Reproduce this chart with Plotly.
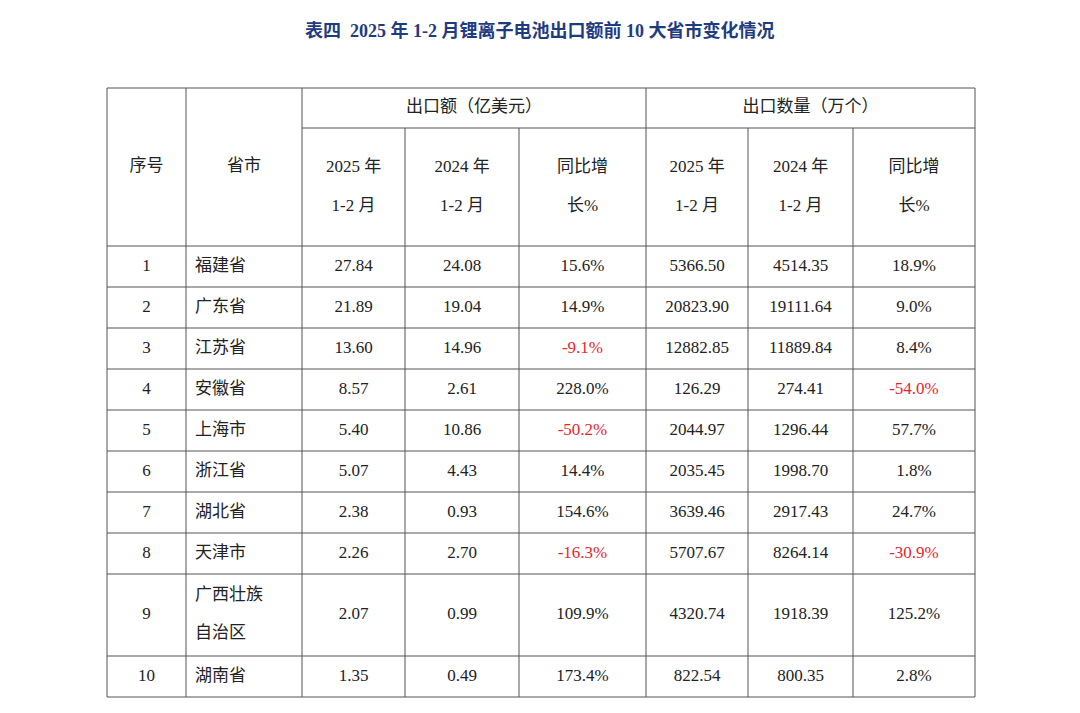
import plotly.graph_objects as go

title = "表四  2025 年 1-2 月锂离子电池出口额前 10 大省市变化情况"
ranks = [str(i) for i in range(1, 11)]
provinces = ["福建省", "广东省", "江苏省", "安徽省", "上海市", "浙江省", "湖北省", "天津市", "广西壮族", "湖南省"]
province_extra = "自治区"  # second line of row 9
value_2025 = ["27.84", "21.89", "13.60", "8.57", "5.40", "5.07", "2.38", "2.26", "2.07", "1.35"]
value_2024 = ["24.08", "19.04", "14.96", "2.61", "10.86", "4.43", "0.93", "2.70", "0.99", "0.49"]
value_yoy = ["15.6%", "14.9%", "-9.1%", "228.0%", "-50.2%", "14.4%", "154.6%", "-16.3%", "109.9%", "173.4%"]
qty_2025 = ["5366.50", "20823.90", "12882.85", "126.29", "2044.97", "2035.45", "3639.46", "5707.67", "4320.74", "822.54"]
qty_2024 = ["4514.35", "19111.64", "11889.84", "274.41", "1296.44", "1998.70", "2917.43", "8264.14", "1918.39", "800.35"]
qty_yoy = ["18.9%", "9.0%", "8.4%", "-54.0%", "57.7%", "1.8%", "24.7%", "-30.9%", "125.2%", "2.8%"]

col_x = [107, 186, 302, 405, 519, 646, 748, 853, 975]
row_y = [246, 287, 328, 369, 410, 451, 492, 533, 574, 656, 697]
top, mid = 88, 128

FONT = "Liberation Serif, Noto Sans CJK SC"
BLACK = "#222222"
RED = "#e8262a"
LINE = "#555555"
OFF = 8  # page body margin

fig = go.Figure()

def add_text(xs, ys, texts, colors=None, pos="middle center", size=17, family=FONT):
    fig.add_trace(go.Scatter(
        x=xs, y=ys, text=texts, mode="text", textposition=pos,
        textfont=dict(family=family, size=size, color=colors or BLACK),
        hoverinfo="skip", showlegend=False))

shapes = []
def hline(y, x0, x1):
    shapes.append(dict(type="line", x0=x0, x1=x1, y0=y, y1=y, xref="x", yref="y", line=dict(color=LINE, width=1)))
def vline(x, y0, y1):
    shapes.append(dict(type="line", x0=x, x1=x, y0=y0, y1=y1, xref="x", yref="y", line=dict(color=LINE, width=1)))

hline(top, col_x[0], col_x[-1])
hline(mid, col_x[2], col_x[-1])
for y in row_y:
    hline(y, col_x[0], col_x[-1])
for i, x in enumerate(col_x):
    if i in (3, 4, 6, 7):
        vline(x, mid, row_y[-1])
    else:
        vline(x, top, row_y[-1])

# header
add_text([(col_x[0] + col_x[1]) / 2, (col_x[1] + col_x[2]) / 2], [167, 167], ["序号", "省市"])
add_text([(col_x[2] + col_x[5]) / 2, (col_x[5] + col_x[8]) / 2], [108, 108], ["出口额（亿美元）", "出口数量（万个）"])
sub1 = ["2025 年", "2024 年", "同比增", "2025 年", "2024 年", "同比增"]
sub2 = ["1-2 月", "1-2 月", "长%", "1-2 月", "1-2 月", "长%"]
centers = [(col_x[i] + col_x[i + 1]) / 2 for i in range(2, 8)]
add_text(centers, [168] * 6, sub1)
add_text(centers, [207] * 6, sub2)

# body
ymid = [(row_y[i] + row_y[i + 1]) / 2 for i in range(10)]
add_text([(col_x[0] + col_x[1]) / 2] * 10, ymid, ranks)
prov_y = list(ymid)
prov_y[8] = 596
add_text([col_x[1] + 9] * 10, prov_y, provinces, pos="middle right", family="Noto Sans CJK SC")
add_text([col_x[1] + 9], [634], [province_extra], pos="middle right", family="Noto Sans CJK SC")
for ci, vals in enumerate([value_2025, value_2024, value_yoy, qty_2025, qty_2024, qty_yoy]):
    colors = [RED if v.startswith("-") else BLACK for v in vals]
    add_text([centers[ci]] * 10, ymid, vals, colors)

fig.update_layout(
    width=1080, height=713, margin=dict(l=0, r=0, t=0, b=0),
    paper_bgcolor="white", plot_bgcolor="white", shapes=shapes,
    xaxis=dict(range=[OFF, 1080 + OFF], visible=False, fixedrange=True),
    yaxis=dict(range=[713 + OFF, OFF], visible=False, fixedrange=True),
    annotations=[dict(x=540, y=30, xref="x", yref="y", text="<b>" + title + "</b>", showarrow=False,
                      font=dict(family=FONT, size=18, color="#1f3b82"))],
)

fig.write_html("out.html")
